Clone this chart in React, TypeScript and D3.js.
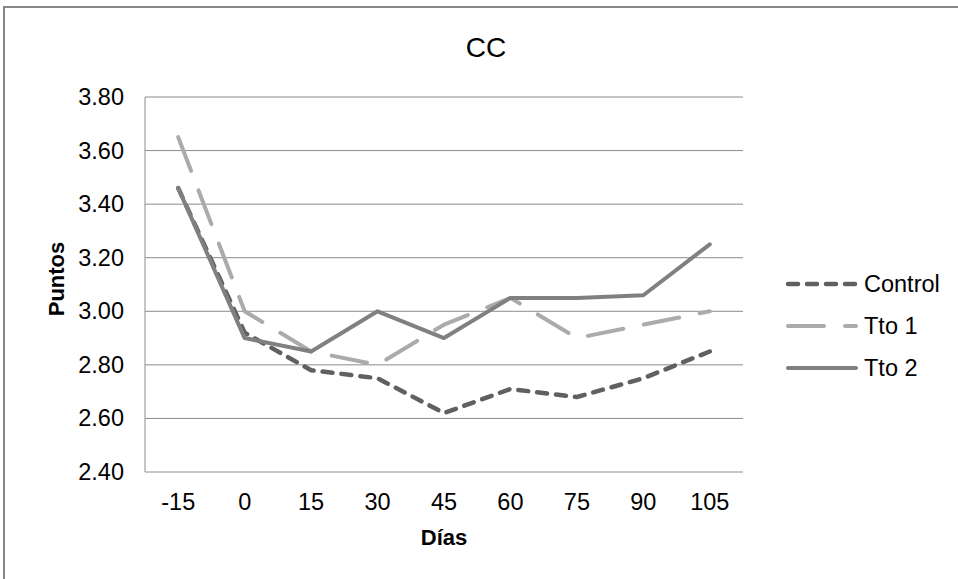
import { useMemo } from 'react';
import * as d3 from 'd3';

// Chart data
const days = ['-15', '0', '15', '30', '45', '60', '75', '90', '105'];
const control = [3.46, 2.92, 2.78, 2.75, 2.62, 2.71, 2.68, 2.75, 2.85];
const tto1 = [3.65, 3.0, 2.85, 2.8, 2.95, 3.05, 2.9, 2.95, 3.0];
const tto2 = [3.46, 2.9, 2.85, 3.0, 2.9, 3.05, 3.05, 3.06, 3.25];
const yTicks = [2.4, 2.6, 2.8, 3.0, 3.2, 3.4, 3.6, 3.8];

const seriesList = [
	{ name: 'Control', values: control, color: '#606060', width: 4.5, dash: '10,9' },
	{ name: 'Tto 1', values: tto1, color: '#ababab', width: 4, dash: '36,21' },
	{ name: 'Tto 2', values: tto2, color: '#808080', width: 4, dash: '' },
];

const W = 958;
const H = 579;
const plot = { left: 145, right: 743, top: 97, bottom: 472 };
const FONT = '"Liberation Sans", Arial, sans-serif';

export default function App() {
	const x = useMemo(() => d3.scaleBand<string>().domain(days).range([plot.left, plot.right]), []);
	const y = useMemo(() => d3.scaleLinear().domain([2.4, 3.8]).range([plot.bottom, plot.top]), []);

	const line = d3
		.line<number>()
		.x((_, i) => (x(days[i]) as number) + x.bandwidth() / 2)
		.y((d) => y(d));

	return (
		<svg width={W} height={H} style={{ position: 'fixed', left: 0, top: 0, background: '#fff' }} fontFamily={FONT}>
			{/* outer chart border, cut off at right and bottom */}
			<rect x={4} y={7} width={W + 20} height={H + 20} fill="#fff" stroke="#868686" strokeWidth={2} />

			<text x={486} y={47} textAnchor="middle" dominantBaseline="central" fontSize={28}>
				CC
			</text>

			{/* gridlines + y labels */}
			{yTicks.map((t) => (
				<g key={t}>
					<line x1={plot.left} x2={plot.right} y1={y(t)} y2={y(t)} stroke="#8c8c8c" strokeWidth={1} />
					<text x={124} y={y(t)} textAnchor="end" dominantBaseline="central" fontSize={23.5}>
						{t.toFixed(2)}
					</text>
				</g>
			))}
			<line x1={plot.left} x2={plot.left} y1={plot.top} y2={plot.bottom} stroke="#8c8c8c" strokeWidth={1} />

			{/* x labels */}
			{days.map((d) => (
				<text key={d} x={(x(d) as number) + x.bandwidth() / 2} y={502} textAnchor="middle" dominantBaseline="central" fontSize={23.5}>
					{d}
				</text>
			))}

			<text x={444} y={537} textAnchor="middle" dominantBaseline="central" fontSize={22} fontWeight="bold">
				Días
			</text>
			<text transform="translate(56,279) rotate(-90)" textAnchor="middle" dominantBaseline="central" fontSize={22} fontWeight="bold">
				Puntos
			</text>

			{/* series */}
			{seriesList.map((s) => (
				<path
					key={s.name}
					d={line(s.values) || ''}
					fill="none"
					stroke={s.color}
					strokeWidth={s.width}
					strokeDasharray={s.dash || undefined}
					strokeLinecap="round"
					strokeLinejoin="round"
				/>
			))}

			{/* legend */}
			{seriesList.map((s, i) => {
				const ly = 284 + i * 42;
				return (
					<g key={s.name}>
						<line x1={788} x2={856} y1={ly} y2={ly} stroke={s.color} strokeWidth={s.width} strokeDasharray={s.dash || undefined} strokeLinecap="round" />
						<text x={864} y={ly} dominantBaseline="central" fontSize={23.5}>
							{s.name}
						</text>
					</g>
				);
			})}
		</svg>
	);
}
